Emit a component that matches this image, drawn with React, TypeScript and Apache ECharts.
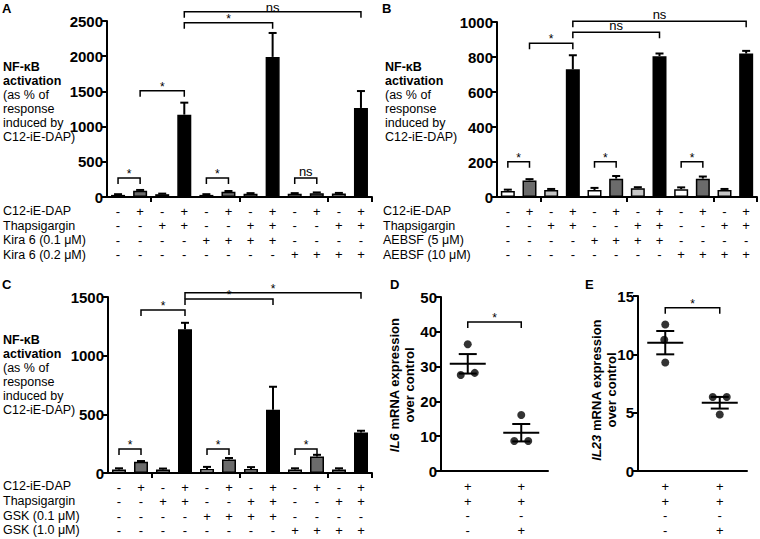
import React, { useEffect, useRef } from 'react';
import * as echarts from 'echarts';

const FONT = '"Liberation Sans", Arial, Helvetica, sans-serif';
const BAR_COLORS = ['#ffffff', '#6b6b6b', '#c6c6c6', '#000000'];

// ---------- Panel A ----------
const aValues = [30, 90, 40, 1170, 30, 75, 45, 1990, 45, 55, 50, 1265];
const aErrTop = [40, 100, 48, 1340, 40, 85, 55, 2330, 55, 65, 58, 1505];
const aRowNames = ['C12-iE-DAP', 'Thapsigargin', 'Kira 6 (0.1 μM)', 'Kira 6 (0.2 μM)'];
const aRows = [
  ['-', '+', '-', '+', '-', '+', '-', '+', '-', '+', '-', '+'],
  ['-', '-', '+', '+', '-', '-', '+', '+', '-', '-', '+', '+'],
  ['-', '-', '-', '-', '+', '+', '+', '+', '-', '-', '-', '-'],
  ['-', '-', '-', '-', '-', '-', '-', '-', '+', '+', '+', '+'],
];
const aBrackets: [number, number, number][] = [[0, 1, 270], [4, 5, 270], [8, 9, 270], [1, 3, 1510], [3, 7, 2476], [3, 11, 2632]];
const aBracketLabels = ['*', '*', 'ns', '*', '*', 'ns'];

// ---------- Panel B ----------
const bValues = [35, 95, 40, 730, 40, 105, 50, 805, 45, 105, 40, 820];
const bErrTop = [42, 102, 46, 810, 52, 120, 56, 820, 55, 117, 46, 835];
const bRowNames = ['C12-iE-DAP', 'Thapsigargin', 'AEBSF (5 μM)', 'AEBSF (10 μM)'];
const bRows = aRows;
const bBrackets: [number, number, number][] = [[0, 1, 202], [4, 5, 202], [8, 9, 202], [1, 3, 878], [3, 7, 941], [3, 11, 1005]];
const bBracketLabels = ['*', '*', '*', '*', 'ns', 'ns'];

// ---------- Panel C ----------
const cValues = [30, 95, 30, 1225, 35, 115, 35, 540, 30, 140, 30, 345];
const cErrTop = [40, 102, 38, 1280, 52, 128, 50, 735, 40, 155, 40, 360];
const cRowNames = ['C12-iE-DAP', 'Thapsigargin', 'GSK (0.1 μM)', 'GSK (1.0 μM)'];
const cRows = aRows;
const cBrackets: [number, number, number][] = [[0, 1, 205], [4, 5, 205], [8, 9, 205], [1, 3, 1389], [3, 7, 1483], [3, 11, 1537]];
const cBracketLabels = ['*', '*', '*', '*', '*', '*'];

// ---------- Panel D ----------
const dPoints = [[36.4, 27.6, 28.2], [16.1, 8.6, 8.6]];
const dJitter = [[0, -7, 7], [0, -7, 7]];
const dMean = [30.8, 11.0];
const dSemLo = [28.0, 8.5];
const dSemHi = [33.6, 13.5];
const dBrackets: [number, number, number][] = [[0, 1, 42.8]];
const dBracketLabels = ['*'];

// ---------- Panel E ----------
const ePoints = [[12.55, 11.25, 9.3], [6.35, 6.35, 4.85]];
const eJitter = [[0, -1, 0], [-7, 7, 0]];
const eMean = [11.0, 5.85];
const eSemLo = [10.0, 5.35];
const eSemHi = [12.0, 6.35];
const eBrackets: [number, number, number][] = [[0, 1, 14.0]];
const eBracketLabels = ['*'];

const deRows = [['+', '+'], ['+', '+'], ['-', '-'], ['-', '+']];

const axisLineStyle = { color: '#000', width: 2 };

function yAxisOf(gi: number, max: number, interval: number) {
  return {
    type: 'value', gridIndex: gi, min: 0, max, interval,
    axisLine: { show: true, lineStyle: axisLineStyle },
    axisTick: { show: true, length: 5, lineStyle: axisLineStyle },
    splitLine: { show: false },
    axisLabel: {
      fontFamily: FONT, fontWeight: 'bold', fontSize: 15, color: '#000', margin: 4,
      formatter: (v: number) => String(v),
    },
  };
}

function bracketSeries(gi: number, brackets: [number, number, number][], labels: string[]) {
  return {
    type: 'custom', xAxisIndex: gi, yAxisIndex: gi, clip: false, z: 5,
    encode: { x: [0, 1], y: 2 },
    data: brackets,
    renderItem: (params: any, api: any) => {
      const p1 = api.coord([api.value(0), api.value(2)]);
      const p2 = api.coord([api.value(1), api.value(2)]);
      const lbl = labels[params.dataIndex];
      const star = lbl === '*';
      return {
        type: 'group',
        children: [
          {
            type: 'polyline',
            shape: { points: [[p1[0], p1[1] + 6], [p1[0], p1[1]], [p2[0], p1[1]], [p2[0], p1[1] + 6]] },
            style: { stroke: '#000', lineWidth: 1.5, fill: 'none' },
          },
          {
            type: 'text',
            x: (p1[0] + p2[0]) / 2,
            y: star ? p1[1] - 10 : Math.max(0.5, p1[1] - 13),
            style: {
              text: lbl, fill: '#000', fontFamily: FONT, fontSize: star ? 12 : 13,
              textAlign: 'center', align: 'center', textVerticalAlign: 'top', verticalAlign: 'top',
            },
          },
        ],
      };
    },
  };
}

function barPanel(gi: number, values: number[], errTop: number[], rows: string[][], max: number, interval: number,
  brackets: [number, number, number][], labels: string[]) {
  const xAxis = {
    type: 'category', gridIndex: gi, data: values.map((_, i) => 'c' + i),
    axisLine: { lineStyle: axisLineStyle },
    axisTick: { show: true, interval: (i: number) => i === 2 || i === 6 || i === 10, length: 5, lineStyle: axisLineStyle },
    axisLabel: {
      interval: 0, formatter: (_v: string, i: number) => rows.map((r) => r[i]).join('\n'),
      fontFamily: FONT, fontSize: 13, color: '#000', lineHeight: 14.5, margin: 7,
    },
  };
  const series = [
    {
      type: 'bar', xAxisIndex: gi, yAxisIndex: gi, barWidth: 14,
      itemStyle: { borderColor: '#000', borderWidth: 1.5 },
      data: values.map((v, i) => ({ value: v, itemStyle: { color: BAR_COLORS[i % 4] } })),
    },
    {
      type: 'custom', xAxisIndex: gi, yAxisIndex: gi, z: 4,
      encode: { x: 0, y: [1, 2] },
      data: values.map((v, i) => [i, v, errTop[i]]),
      renderItem: (_p: any, api: any) => {
        const b = api.coord([api.value(0), api.value(1)]);
        const t = api.coord([api.value(0), api.value(2)]);
        return {
          type: 'group',
          children: [
            { type: 'line', shape: { x1: b[0], y1: b[1], x2: t[0], y2: t[1] }, style: { stroke: '#000', lineWidth: 2 } },
            { type: 'line', shape: { x1: t[0] - 4, y1: t[1], x2: t[0] + 4, y2: t[1] }, style: { stroke: '#000', lineWidth: 2 } },
          ],
        };
      },
    },
    bracketSeries(gi, brackets, labels),
  ];
  return { xAxis, yAxis: yAxisOf(gi, max, interval), series };
}

function dotPanel(gi: number, points: number[][], jitter: number[][], mean: number[], lo: number[], hi: number[],
  max: number, interval: number, brackets: [number, number, number][], labels: string[]) {
  const xAxis = {
    type: 'category', gridIndex: gi, data: ['g1', 'g2'],
    axisLine: { lineStyle: axisLineStyle },
    axisTick: { show: false },
    axisLabel: {
      interval: 0, formatter: (_v: string, i: number) => deRows.map((r) => r[i]).join('\n'),
      fontFamily: FONT, fontSize: 13, color: '#000', lineHeight: 14.7, margin: 8,
    },
  };
  const scatterData: any[] = [];
  points.forEach((grp, g) => grp.forEach((v, k) => scatterData.push({ value: [g, v], symbolOffset: [jitter[g][k], 0] })));
  const series = [
    {
      type: 'scatter', xAxisIndex: gi, yAxisIndex: gi, symbol: 'circle', symbolSize: 8,
      itemStyle: { color: '#000' }, data: scatterData,
    },
    {
      type: 'custom', xAxisIndex: gi, yAxisIndex: gi, z: 4,
      encode: { x: 0, y: [1, 2, 3] },
      data: mean.map((m, i) => [i, m, lo[i], hi[i]]),
      renderItem: (_p: any, api: any) => {
        const m = api.coord([api.value(0), api.value(1)]);
        const l = api.coord([api.value(0), api.value(2)]);
        const h = api.coord([api.value(0), api.value(3)]);
        const st = { stroke: '#000', lineWidth: 2 };
        return {
          type: 'group',
          children: [
            { type: 'line', shape: { x1: m[0] - 18, y1: m[1], x2: m[0] + 18, y2: m[1] }, style: st },
            { type: 'line', shape: { x1: l[0], y1: l[1], x2: h[0], y2: h[1] }, style: st },
            { type: 'line', shape: { x1: h[0] - 9, y1: h[1], x2: h[0] + 9, y2: h[1] }, style: st },
            { type: 'line', shape: { x1: l[0] - 9, y1: l[1], x2: l[0] + 9, y2: l[1] }, style: st },
          ],
        };
      },
    },
    bracketSeries(gi, brackets, labels),
  ];
  return { xAxis, yAxis: yAxisOf(gi, max, interval), series };
}

function txt(x: number, y: number, text: string, extra: any = {}) {
  return {
    type: 'text', x, y,
    style: { text, fill: '#000', fontFamily: FONT, fontSize: 12.5, textVerticalAlign: 'top', verticalAlign: 'top', ...extra },
  };
}

const nfText = '{b|NF-κB}\n{b|activation}\n(as % of\nresponse\ninduced by\nC12-iE-DAP)';
const nfRich = { b: { fontWeight: 'bold', fontFamily: FONT, fontSize: 12.5, lineHeight: 14 } };

export default function App() {
  const ref = useRef<HTMLDivElement>(null);
  useEffect(() => {
    if (!ref.current) return;
    const chart = echarts.init(ref.current, undefined, { renderer: 'svg' });
    const pA = barPanel(0, aValues, aErrTop, aRows, 2500, 500, aBrackets, aBracketLabels);
    const pB = barPanel(1, bValues, bErrTop, bRows, 1000, 200, bBrackets, bBracketLabels);
    const pC = barPanel(2, cValues, cErrTop, cRows, 1500, 500, cBrackets, cBracketLabels);
    const pD = dotPanel(3, dPoints, dJitter, dMean, dSemLo, dSemHi, 50, 10, dBrackets, dBracketLabels);
    const pE = dotPanel(4, ePoints, eJitter, eMean, eSemLo, eSemHi, 15, 5, eBrackets, eBracketLabels);
    const panels = [pA, pB, pC, pD, pE];
    chart.setOption({
      animation: false,
      backgroundColor: '#fff',
      textStyle: { fontFamily: FONT },
      grid: [
        { left: 107, top: 21, width: 265, height: 176 },
        { left: 497, top: 22, width: 260, height: 175 },
        { left: 108, top: 297, width: 264, height: 176 },
        { left: 441, top: 297, width: 107, height: 174 },
        { left: 638, top: 296, width: 109, height: 175 },
      ],
      xAxis: panels.map((p) => p.xAxis),
      yAxis: panels.map((p) => p.yAxis),
      series: panels.flatMap((p) => p.series),
      graphic: [
        txt(2, 2, 'A', { fontWeight: 'bold', fontSize: 13 }),
        txt(382, 2, 'B', { fontWeight: 'bold', fontSize: 13 }),
        txt(2, 278, 'C', { fontWeight: 'bold', fontSize: 13 }),
        txt(390, 278, 'D', { fontWeight: 'bold', fontSize: 13 }),
        txt(585, 278, 'E', { fontWeight: 'bold', fontSize: 13 }),
        txt(3, 60, nfText, { rich: nfRich, lineHeight: 14 }),
        txt(385, 60, nfText, { rich: nfRich, lineHeight: 14 }),
        txt(3, 333, nfText, { rich: nfRich, lineHeight: 14 }),
        txt(3, 204, aRowNames.join('\n'), { lineHeight: 14.5 }),
        txt(383, 204, bRowNames.join('\n'), { lineHeight: 14.5 }),
        txt(3, 479, cRowNames.join('\n'), { lineHeight: 14.7 }),
        {
          type: 'text', x: 402, y: 385, rotation: Math.PI / 2,
          style: {
            text: '{i|IL6} mRNA expression\nover control', fill: '#000', fontFamily: FONT, fontSize: 13, fontWeight: 'bold',
            lineHeight: 15, textAlign: 'center', align: 'center', textVerticalAlign: 'middle', verticalAlign: 'middle',
            rich: { i: { fontStyle: 'italic', fontWeight: 'bold', fontFamily: FONT, fontSize: 13 } },
          },
        },
        {
          type: 'text', x: 604, y: 390, rotation: Math.PI / 2,
          style: {
            text: '{i|IL23} mRNA expression\nover control', fill: '#000', fontFamily: FONT, fontSize: 13, fontWeight: 'bold',
            lineHeight: 15, textAlign: 'center', align: 'center', textVerticalAlign: 'middle', verticalAlign: 'middle',
            rich: { i: { fontStyle: 'italic', fontWeight: 'bold', fontFamily: FONT, fontSize: 13 } },
          },
        },
      ],
    });
    return () => chart.dispose();
  }, []);
  return <div ref={ref} style={{ position: 'absolute', left: 0, top: 0, width: 760, height: 539 }} />;
}
